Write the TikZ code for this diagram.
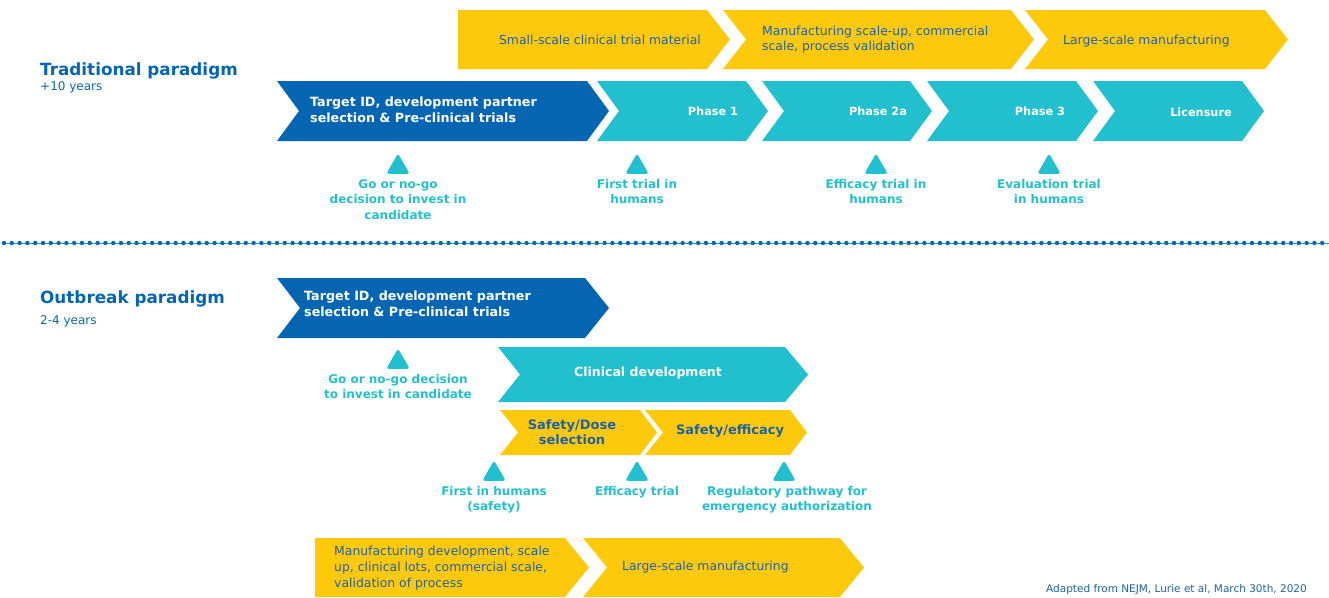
\documentclass[tikz,border=0pt]{standalone}
\usepackage{fontspec}
\setmainfont{DejaVu Sans}
\usetikzlibrary{positioning,shapes.geometric}

\definecolor{navy}{HTML}{0466B3}
\definecolor{aqua}{HTML}{22BFCF}
\definecolor{gold}{HTML}{FFC90B}
\definecolor{ink}{HTML}{1D62A6}

\begin{document}
\begin{tikzpicture}[x=1pt,y=-1pt,node distance=5pt,
                    head/.style={font=\bfseries\fontsize{16.8}{20}\selectfont,text=navy,anchor=base west,inner sep=0},
                    years/.style={font=\fontsize{12}{14}\selectfont,text=navy,anchor=base west,inner sep=0},
                    box text/.style={font=\bfseries\fontsize{12.7}{16}\selectfont,text=white,align=left,anchor=west,inner sep=0},
                    phase/.style={font=\bfseries\fontsize{11.3}{14}\selectfont,text=white,inner sep=0},
                    gold text/.style={font=\fontsize{12.4}{15.8}\selectfont,text=ink,align=left,inner sep=0},
                    stage text/.style={font=\bfseries\fontsize{13}{14.5}\selectfont,text=ink,align=center,inner sep=0},
                    tri/.style={regular polygon,regular polygon sides=3,fill=aqua,rounded corners=2.5pt,minimum size=27pt,inner sep=0},
                    tri label/.style={font=\bfseries\fontsize{12}{15.5}\selectfont,text=aqua,align=center,inner sep=0}]

       \useasboundingbox (0,0) rectangle (1329,597);

       % traditional paradigm
       \node[head] (trad) at (40,75) {Traditional paradigm};
       \node[years] (tradyrs) at (40,90) {+10 years};

       \fill[gold] (458,10) -- (707,10) -- (730,39.5) -- (707,69) -- (458,69) -- cycle;
       \foreach \a/\b in {723/1011,1025/1265}
         \fill[gold] (\a,10) -- (\b,10) -- (\b+23,39.5) -- (\b,69) -- (\a,69) -- (\a+23,39.5) -- cycle;
       \node[gold text] (small) at (600,39.5) {Small-scale clinical trial material};
       \node[gold text,anchor=west] (scaleup) at (762,39.5) {Manufacturing scale-up, commercial\\scale, process validation};
       \node[gold text,anchor=west] (large) at (1063,41) {Large-scale manufacturing};

       \fill[navy] (277,81) -- (587,81) -- (609,111) -- (587,141) -- (277,141) -- (299,111) -- cycle;
       \foreach \a/\b in {597/746,762/910,927/1076,1093/1242}
         \fill[aqua] (\a,81) -- (\b,81) -- (\b+22,111) -- (\b,141) -- (\a,141) -- (\a+22,111) -- cycle;
       \node[box text] (target) at (310,110) {Target ID, development partner\\selection \& Pre-clinical trials};
       \node[phase] (ph1) at (713,111) {Phase 1};
       \node[phase] (ph2) at (878,111) {Phase 2a};
       \node[phase] (ph3) at (1040,111) {Phase 3};
       \node[phase] (lic) at (1201,112) {Licensure};

       \node[tri] (t1) at (398,167) {};
       \node[tri] (t2) at (637,167) {};
       \node[tri] (t3) at (876,167) {};
       \node[tri] (t4) at (1049,167) {};
       \node[tri label] (l1) [below=of t1] {Go or no-go\\decision to invest in\\candidate};
       \node[tri label] (l2) [below=of t2] {First trial in\\humans};
       \node[tri label] (l3) [below=of t3] {Efficacy trial in\\humans};
       \node[tri label] (l4) [below=of t4] {Evaluation trial\\in humans};

       \coordinate (dl) at (4,243);
       \coordinate (dr) at (1329,243);
       \draw[aqua!60!navy,line width=0.8pt] (dl) -- (dr);
       \draw[navy,line width=4.4pt,line cap=round,dash pattern=on 0pt off 7.8pt] (dl) -- (dr);

       % outbreak paradigm
       \node[head] (outb) at (40,303) {Outbreak paradigm};
       \node[years] (outbyrs) at (40,324) {2-4 years};

       \fill[navy] (277,278) -- (585,278) -- (609,308) -- (585,338) -- (277,338) -- (300,308) -- cycle;
       \node[box text] (target2) at (304,304) {Target ID, development partner\\selection \& Pre-clinical trials};

       \fill[aqua] (498,347) -- (785,347) -- (808,374.5) -- (785,402) -- (498,402) -- (520,374.5) -- cycle;
       \node[phase,font=\bfseries\fontsize{12.5}{15}\selectfont] (clin) at (648,373) {Clinical development};

       \foreach \a/\b in {500/640,645/790}
         \fill[gold] (\a,410) -- (\b,410) -- (\b+17,432.5) -- (\b,455) -- (\a,455) -- (\a+18,432.5) -- cycle;
       \node[stage text] (dose) at (572,432) {Safety/Dose\\selection};
       \node[stage text] (eff) at (730,431) {Safety/efficacy};

       \node[tri] (t5) at (398,362) {};
       \node[tri] (t6) at (494,474) {};
       \node[tri] (t7) at (637,474) {};
       \node[tri] (t8) at (784,474) {};
       \node[tri label] (l5) [below=of t5] {Go or no-go decision\\to invest in candidate};
       \node[tri label] (l6) [below=of t6] {First in humans\\(safety)};
       \node[tri label] (l7) [below=of t7] {Efficacy trial};
       \node[tri label] (l8) [below=of t8,xshift=3pt] {Regulatory pathway for\\emergency authorization};

       \fill[gold] (315,538) -- (565,538) -- (589,567.5) -- (565,597) -- (315,597) -- cycle;
       \fill[gold] (583,538) -- (840,538) -- (864,567.5) -- (840,597) -- (583,597) -- (607,567.5) -- cycle;
       \node[gold text,anchor=west] (mfgdev) at (334,568) {Manufacturing development, scale\\up, clinical lots, commercial scale,\\validation of process};
       \node[gold text,anchor=west] (large2) at (622,567) {Large-scale manufacturing};

       \node[font=\fontsize{10.5}{12}\selectfont,text=ink,anchor=east,inner sep=0] (src) at (1307,590) {Adapted from NEJM, Lurie et al, March 30th, 2020};

\end{tikzpicture}
\end{document}
